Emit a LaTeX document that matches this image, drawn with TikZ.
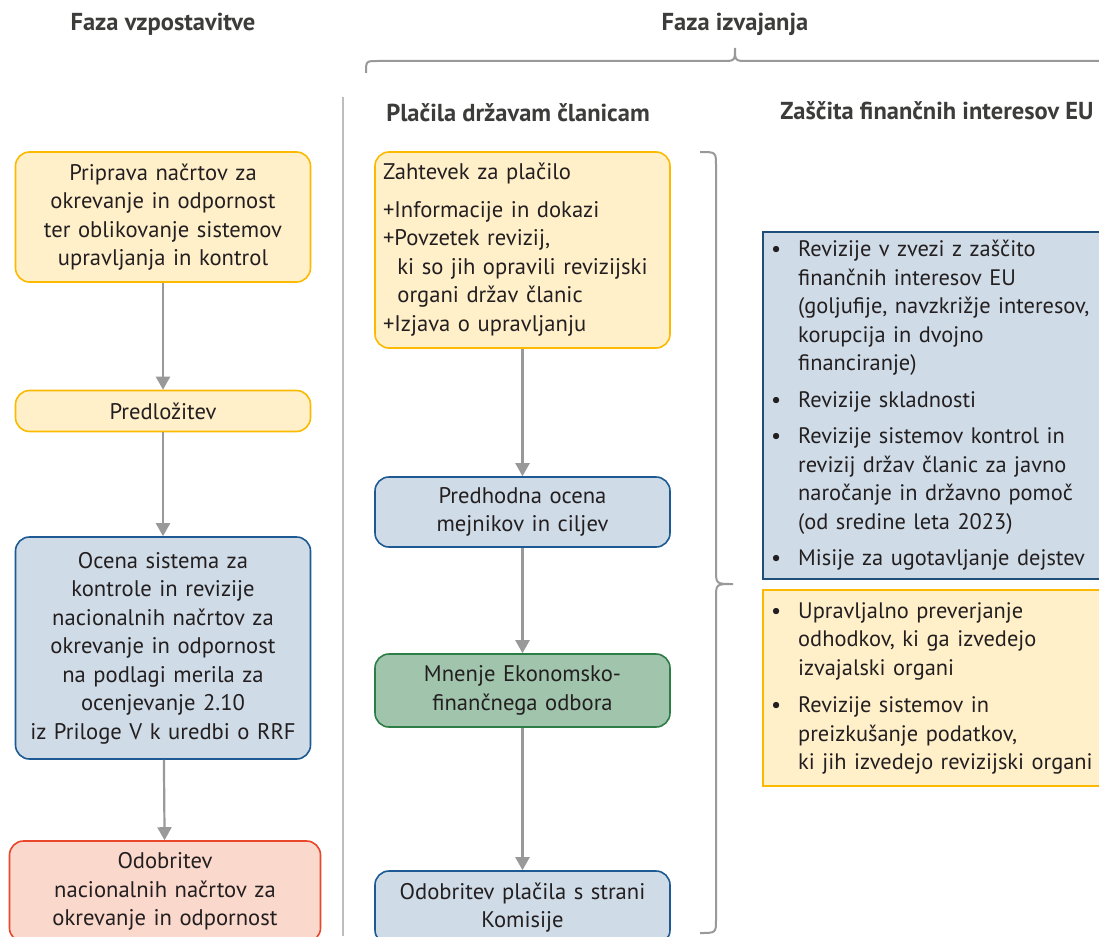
\documentclass[tikz,border=0pt]{standalone}
\usepackage{fontspec}
\setmainfont{PT Sans}
\usetikzlibrary{arrows.meta}
\definecolor{txt}{HTML}{231F20}
\definecolor{headtxt}{HTML}{3C3C3B}
\definecolor{ylwfill}{HTML}{FFF0CA}
\definecolor{ylwline}{HTML}{FBBA00}
\definecolor{blufill}{HTML}{CFDBE6}
\definecolor{bluline}{HTML}{1D5A93}
\definecolor{darkblu}{HTML}{1F4E7A}
\definecolor{grnfill}{HTML}{A0C4AC}
\definecolor{grnline}{HTML}{2D7D46}
\definecolor{redfill}{HTML}{FAD8CC}
\definecolor{redline}{HTML}{E9462B}
\definecolor{linegray}{HTML}{999999}
\tikzstyle{stage}=[draw, line width=1.6pt, rounded corners=14pt, minimum width=295pt, text width=284pt, inner xsep=5.5pt, inner ysep=0pt, align=center, text=txt, font=\fontsize{22.6}{28.5}\selectfont]
\tikzstyle{ylw}=[stage, fill=ylwfill, draw=ylwline]
\tikzstyle{blu}=[stage, fill=blufill, draw=bluline]
\tikzstyle{grn}=[stage, fill=grnfill, draw=grnline]
\tikzstyle{red}=[stage, fill=redfill, draw=redline]
\tikzstyle{listbox}=[draw, line width=2.4pt, anchor=north west, text width=330pt, inner xsep=14pt, inner ysep=0pt, align=left, text=txt, font=\fontsize{22.4}{28.5}\selectfont]
\tikzstyle{head}=[text=headtxt, font=\bfseries\fontsize{24.5}{28}\selectfont]
\tikzstyle{flow}=[draw=linegray, line width=2.2pt, -{Triangle[width=14pt, length=13pt]}]
\tikzstyle{brace}=[draw=linegray, line width=2pt]
\newcommand{\stage}{\node[stage]}
\newcommand{\blt}{\hspace*{-6pt}\textbullet}

\begin{document}
\begin{tikzpicture}[x=1pt, y=-1pt]
\path[use as bounding box, clip] (0,0) rectangle (1099,936);
%headings
\node[head] (h1) at (163,24) {Faza vzpostavitve};
\node[head] (h2) at (735,24) {Faza izvajanja};
\node[head] (h3) at (518,113) {Plačila državam članicam};
\node[head] (h4) at (937,111) {Zaščita finančnih interesov EU};
%separator and braces
\draw[draw=linegray!65, line width=1.4pt] (343,97) -- (343,936);
\draw[brace] (366,73) .. controls (366,61) .. (378,61) -- (722,61)
  .. controls (735,61) .. (735,48) .. controls (735,61) .. (748,61) -- (1110,61);
\draw[brace] (700,152) .. controls (716,152) .. (716,166) -- (716,570)
  .. controls (716,584) .. (733,584) .. controls (716,584) .. (716,598)
  -- (716,919) .. controls (716,933) .. (700,933);
%setup phase
\stage[ylw, minimum height=130pt] (p1) at (163,217) {Priprava načrtov za\\okrevanje in odpornost\\ter oblikovanje sistemov\\upravljanja in kontrol};
\stage[ylw, minimum height=41pt] (p2) at (163,411) {Predložitev};
\stage[blu, minimum height=222pt] (p3) at (163,648) {Ocena sistema za\\kontrole in revizije\\nacionalnih načrtov za\\okrevanje in odpornost\\na podlagi merila za\\ocenjevanje 2.10\\iz Priloge V k uredbi o RRF};
\stage[red, minimum height=101pt, minimum width=311pt] (p4) at (165,891.5) {Odobritev\\nacionalnih načrtov za\\okrevanje in odpornost};
%payments
\stage[ylw, minimum height=196pt, text width=279pt, inner xsep=8pt, align=left] (m1) at (522.5,250) {%
\begin{tabular}{@{}l@{}l@{}}
\multicolumn{2}{@{}l@{}}{Zahtevek za plačilo}\\[9pt]
+&Informacije in dokazi\\
+&Povzetek revizij,\\
&\hspace{3pt}ki so jih opravili revizijski\\
&\hspace{3pt}organi držav članic\\
+&Izjava o upravljanju
\end{tabular}};
\stage[blu, minimum height=70pt] (m2) at (522.5,512) {Predhodna ocena\\mejnikov in ciljev};
\stage[grn, minimum height=73pt] (m3) at (522.5,690.5) {Mnenje Ekonomsko-\\finančnega odbora};
\stage[blu, minimum height=73pt] (m4) at (522.5,907.5) {Odobritev plačila s strani\\Komisije};
%arrows
\foreach \a/\b in {p1/p2, p2/p3, p3/p4, m1/m2, m2/m3, m3/m4}
	\draw[flow] (\a) -- (\b);
%protection of EU interests
\node[listbox, fill=blufill, draw=darkblu, minimum height=347pt] (z1) at (762,231) {%
\begin{tabular}{@{}p{21pt}@{}l@{}}
\blt & Revizije v zvezi z zaščito\\
& finančnih interesov EU\\
& (goljufije, navzkrižje interesov,\\
& korupcija in dvojno\\
& financiranje)\\[8pt]
\blt & Revizije skladnosti\\[8pt]
\blt & Revizije sistemov kontrol in\\
& revizij držav članic za javno\\
& naročanje in državno pomoč\\
& (od sredine leta 2023)\\[8pt]
\blt & Misije za ugotavljanje dejstev
\end{tabular}};
\node[listbox, fill=ylwfill, draw=ylwline, minimum height=196pt] (z2) at (762,589) {%
\begin{tabular}{@{}p{21pt}@{}l@{}}
\blt & Upravljalno preverjanje\\
& odhodkov, ki ga izvedejo\\
& izvajalski organi\\[9pt]
\blt & Revizije sistemov in\\
& preizkušanje podatkov,\\
& ki jih izvedejo revizijski organi
\end{tabular}};
\end{tikzpicture}
\end{document}
